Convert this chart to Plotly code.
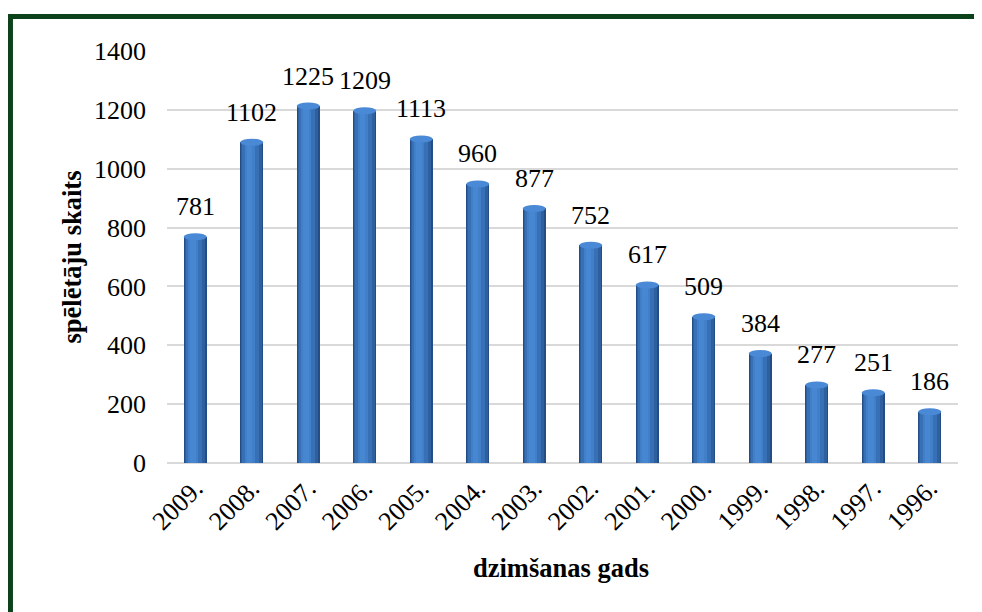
import plotly.graph_objects as go

years = ["2009.", "2008.", "2007.", "2006.", "2005.", "2004.", "2003.",
         "2002.", "2001.", "2000.", "1999.", "1998.", "1997.", "1996."]
players = [781, 1102, 1225, 1209, 1113, 960, 877, 752, 617, 509, 384, 277, 251, 186]
y_ticks = [0, 200, 400, 600, 800, 1000, 1200, 1400]

FONT = "Liberation Serif"
W = 0.41          # bar width (category units)
E = 12            # half height of cylinder cap (data units)

fig = go.Figure()
body = [v - E for v in players]
idx = list(range(len(years)))

layers = [
    (W, 0.0, "#244d86"),
    (0.37, -0.005, "#2e60a0"),
    (0.29, -0.02, "#3870b6"),
    (0.18, -0.035, "#417fc9"),
    (0.09, -0.04, "#4787d2"),
]
for w, shift, col in layers:
    fig.add_trace(go.Bar(
        x=idx, y=body, width=w, offset=-w / 2 + shift,
        marker=dict(color=col, line=dict(width=0)),
        hoverinfo="skip", showlegend=False,
    ))

shapes = []
for i, v in enumerate(players):
    shapes.append(dict(
        type="circle", xref="x", yref="y",
        x0=i - W / 2, x1=i + W / 2, y0=v - 2 * E, y1=v,
        fillcolor="#4a89d5", line=dict(width=0), layer="above",
    ))

# green frame (page has an 8px body margin)
shapes.append(dict(
    type="rect", xref="paper", yref="paper",
    x0=-0.1979, x1=1.06, y0=-0.40, y1=1.0837,
    line=dict(color="#0b4219", width=5), fillcolor="rgba(0,0,0,0)", layer="below",
))

annotations = []
for i, v in enumerate(players):
    annotations.append(dict(
        x=i, y=v, xref="x", yref="y", text=str(v), showarrow=False,
        xanchor="center", yanchor="bottom", yshift=10,
        font=dict(family=FONT, size=26, color="black"),
    ))
annotations.append(dict(
    x=-0.1201, y=0.4988, xref="paper", yref="paper", text="<b>spēlētāju skaits</b>",
    textangle=-90, showarrow=False, xanchor="center", yanchor="middle",
    font=dict(family=FONT, size=26.5, color="black"),
))
annotations.append(dict(
    x=0.4987, y=-0.2549, xref="paper", yref="paper", text="<b>dzimšanas gads</b>",
    showarrow=False, xanchor="center", yanchor="middle",
    font=dict(family=FONT, size=26.5, color="black"),
))

fig.update_layout(
    width=974, height=604,
    margin=dict(l=159, r=24, t=43, b=149),
    paper_bgcolor="white", plot_bgcolor="white",
    barmode="overlay", bargap=0,
    shapes=shapes, annotations=annotations,
    font=dict(family=FONT, size=26, color="black"),
    xaxis=dict(
        tickmode="array", tickvals=idx, ticktext=years, tickangle=-45,
        range=[-0.5, len(years) - 0.5], showgrid=False, zeroline=False,
        showline=False, ticks="", ticklabelstandoff=4,
        tickfont=dict(family=FONT, size=26, color="black"),
    ),
    yaxis=dict(
        range=[0, 1400], tickvals=y_ticks, showgrid=True, gridcolor="#d9d9d9",
        gridwidth=2, zeroline=True, zerolinecolor="#d9d9d9", zerolinewidth=2,
        showline=False, ticks="", ticklabelstandoff=20,
        tickfont=dict(family=FONT, size=26, color="black"),
    ),
)

fig.write_html("out.html")
